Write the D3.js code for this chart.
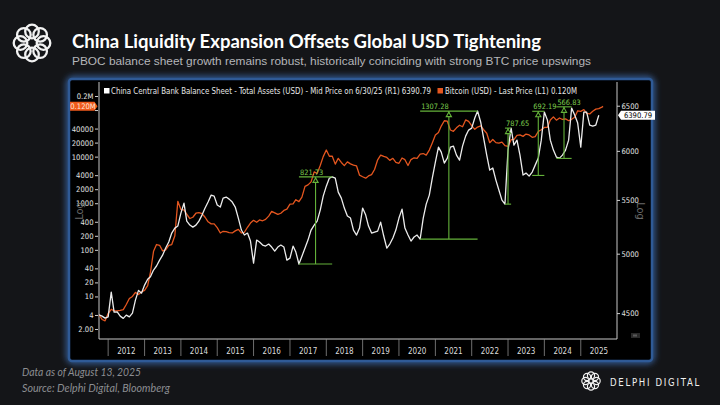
<!DOCTYPE html>
<html>
<head>
<meta charset="utf-8">
<script src="https://cdn.jsdelivr.net/npm/d3@7"></script>
<style>
  html, body { margin: 0; padding: 0; background: #141518; }
  svg { display: block; }
</style>
</head>
<body>
<div class="canvas"></div>
<script>
// month-end readings, first value is end of Sep 2011
const pbocStart = "2011-09";
const pbocValues = [
  4486, 4476, 4460, 4470,
  4670, 4508, 4510, 4476, 4458, 4484, 4470, 4500, 4605, 4685, 4662, 4729,
  4778, 4800, 4857, 4892, 4943, 4987, 5050, 5104, 5186, 5232, 5251, 5373,
  5469, 5297, 5260, 5241, 5260, 5297, 5354, 5421, 5479, 5547, 5537, 5450,
  5431, 5518, 5528, 5508, 5479, 5431, 5326, 5214, 5168, 5186, 5113, 4917,
  5122, 5104, 5077, 5068, 5086, 5059, 5023, 5059, 5077, 5059, 4943, 4961,
  5068, 5014, 4909, 4978, 5050, 5122, 5214, 5260, 5297, 5402, 5537, 5636,
  5717, 5729, 5717, 5577, 5518, 5421, 5345, 5326, 5214, 5168, 5232, 5421,
  5354, 5251, 5186, 5195, 5204, 5288, 5159, 5050, 5086, 5141, 5214, 5326,
  5411, 5232, 5168, 5113, 5150, 5168, 5131, 5326, 5459, 5547, 5717, 5881,
  6040, 5986, 5871, 5923, 6040, 6051, 5955, 5902, 6051, 6159, 6225, 6247,
  6360, 6439, 6315, 6137, 5955, 5799, 5820, 5697, 5597, 5498, 5459, 6008,
  6247, 6061, 6115, 5955, 5748, 5768, 5737, 5778, 5850, 5923, 6115, 6427,
  6336, 6115, 6008, 5934, 5923, 5955, 6008, 6115, 6472, 6394, 6303, 6040,
  6427, 6427, 6281, 6270, 6281, 6390.79
];

const btcStart = "2011-09";
const btcValues = [
  4.0, 3.2, 3.0, 4.3,
  5.3, 4.9, 4.9, 5.0, 5.2, 6.7, 9.0, 10.0, 12.2, 11.0, 12.5, 13.5,
  17, 33, 93, 130, 125, 95, 100, 125, 130, 200, 1100, 730,
  720, 580, 470, 500, 610, 630, 600, 500, 400, 360, 360, 300,
  230, 250, 245, 235, 230, 255, 275, 230, 238, 305, 375, 430,
  390, 437, 420, 450, 530, 670, 620, 575, 610, 700, 745, 960,
  970, 1190, 1080, 1350, 2300, 2480, 2870, 4700, 4340, 6450, 10000, 13900,
  10200, 10300, 6900, 9200, 7500, 6400, 7700, 7000, 6600, 6300, 4000, 3700,
  3450, 3850, 4100, 5300, 8550, 10800, 10100, 9600, 8300, 9200, 7550, 7200,
  9350, 8600, 6450, 8650, 9450, 9150, 11350, 11650, 10800, 13800, 19700, 29000,
  33100, 45200, 58900, 57700, 37300, 35000, 41500, 47100, 43800, 61300, 57000, 46300,
  38500, 43200, 45500, 37700, 31800, 19900, 23300, 20000, 19400, 20500, 17200, 16550,
  23100, 23150, 28500, 29250, 27200, 30500, 29200, 25950, 26970, 34650, 37700, 42300,
  42600, 61200, 71300, 60600, 67500, 62700, 64600, 59000, 63300, 70200, 96400, 93400,
  102400, 84400, 82500, 94200, 104600, 107100, 115700
];
const asOfDate = "2025-08-13";
const btcLastValue = 120000;

// 0.1M sits under the last-price tag, so its label stays blank
const btcTicks = [2, 4, 10, 20, 40, 100, 200, 400, 1000, 2000, 4000, 10000, 20000, 40000, 100000, 200000];
const btcTickLabels = ["2.00", "4", "10", "20", "40", "100", "200", "400", "1000", "2000", "4000", "10000", "20000", "40000", "", "0.2M"];
const pbocTicks = [4500, 5000, 5500, 6000, 6500];
const years = [2012, 2013, 2014, 2015, 2016, 2017, 2018, 2019, 2020, 2021, 2022, 2023, 2024, 2025];

// green high/low measurements on the PBOC line
const annLabels = ["821.73", "1307.28", "787.65", "692.19", "566.83"];
const annFrom = ["2017-03", "2020-07", "2022-11", "2023-08", "2024-04"];
const annTo = ["2018-02", "2022-02", "2023-01", "2023-12", "2024-09"];
const annLow = [4909, 5131, 5459, 5744, 5920];
const annHigh = [5729, 6438, 6247, 6436, 6487];

const legendPboc = "China Central Bank Balance Sheet - Total Assets (USD) - Mid Price on 6/30/25 (R1) 6390.79";
const legendBtc = "Bitcoin (USD) - Last Price (L1) 0.120M";

const width = 720;
const height = 405;
const chartFont = "'Liberation Sans Narrow', 'DejaVu Sans Condensed', 'Liberation Sans', Arial, sans-serif";
const orange = "#e4561f";
const green = "#64b23a";

const parseMonth = d3.timeParse("%Y-%m");
const monthEnd = (s, i = 0) => d3.timeMonth.offset(parseMonth(s), i + 1);

const pbocData = pbocValues.map((v, i) => ({ date: monthEnd(pbocStart, i), value: v }));
const btcData = btcValues.map((v, i) => ({ date: monthEnd(btcStart, i), value: v }));
btcData.push({ date: d3.timeParse("%Y-%m-%d")(asOfDate), value: btcLastValue });

const plot = { left: 99, right: 617, top: 82, bottom: 339 };

const x = d3.scaleTime()
  .domain([new Date(2011, 9, 1), new Date(2025, 11, 31)])
  .range([plot.left, plot.right]);
const yBtc = d3.scaleLog().domain([1.22, 399600]).range([plot.bottom, plot.top]);
const yPboc = d3.scaleLog().domain([4298, 6779]).range([plot.bottom, plot.top]);

const svg = d3.select(".canvas")
  .append("svg")
  .attr("width", width)
  .attr("height", height);

svg.append("rect").attr("width", width).attr("height", height).attr("fill", "#141518");

const defs = svg.append("defs");
defs.append("filter").attr("id", "glow").attr("x", "-10%").attr("y", "-10%").attr("width", "120%").attr("height", "120%")
  .append("feGaussianBlur").attr("stdDeviation", 3);
defs.append("clipPath").attr("id", "plotClip")
  .append("rect")
  .attr("x", plot.left).attr("y", plot.top)
  .attr("width", plot.right - plot.left).attr("height", plot.bottom - plot.top);

// header logo: ring of loops
function ringLogo(cx, cy, ring, r, sw) {
  const g = svg.append("g");
  d3.range(8).forEach((i) => {
    const a = (i * Math.PI) / 4;
    g.append("circle")
      .attr("cx", cx + ring * Math.cos(a))
      .attr("cy", cy + ring * Math.sin(a))
      .attr("r", r)
      .attr("fill", "none")
      .attr("stroke", "#f2f2f2")
      .attr("stroke-width", sw);
  });
}
ringLogo(32, 43, 11.5, 6.8, 2.3);

svg.append("text")
  .attr("x", 72).attr("y", 48)
  .attr("textLength", 469).attr("lengthAdjust", "spacingAndGlyphs")
  .style("font-family", "Lato, 'Open Sans', sans-serif")
  .style("font-weight", 700)
  .style("font-size", "19.5px")
  .attr("fill", "#ffffff")
  .text("China Liquidity Expansion Offsets Global USD Tightening");

svg.append("text")
  .attr("x", 72).attr("y", 65)
  .attr("textLength", 519).attr("lengthAdjust", "spacingAndGlyphs")
  .style("font-family", "'Liberation Sans', Arial, sans-serif")
  .style("font-size", "11.5px")
  .attr("fill", "#b4b6ba")
  .text("PBOC balance sheet growth remains robust, historically coinciding with strong BTC price upswings");

// chart panel with blue glow border
svg.append("rect")
  .attr("x", 69).attr("y", 79).attr("width", 583).attr("height", 282).attr("rx", 4)
  .attr("fill", "none").attr("stroke", "#3a6cb0").attr("stroke-width", 5)
  .attr("filter", "url(#glow)");
svg.append("rect")
  .attr("x", 69).attr("y", 79).attr("width", 583).attr("height", 282).attr("rx", 3)
  .attr("fill", "#000000").attr("stroke", "#2f5a96").attr("stroke-width", 2.5);

// legend
const legend = svg.append("g").style("font-family", chartFont).style("font-size", "8px");
legend.append("rect").attr("x", 104).attr("y", 88).attr("width", 5.5).attr("height", 5.5).attr("fill", "#ffffff");
legend.append("text").attr("x", 111).attr("y", 94)
  .attr("textLength", 320).attr("lengthAdjust", "spacingAndGlyphs")
  .attr("fill", "#e6e6e6").text(legendPboc);
legend.append("rect").attr("x", 437.5).attr("y", 88).attr("width", 5.5).attr("height", 5.5).attr("fill", orange);
legend.append("text").attr("x", 445).attr("y", 94)
  .attr("textLength", 132).attr("lengthAdjust", "spacingAndGlyphs")
  .attr("fill", "#e6e6e6").text(legendBtc);

// frame
const frame = svg.append("g").attr("stroke", "#c8c8c8").attr("stroke-width", 1).attr("fill", "none");
frame.append("path").attr("d", `M${plot.left},${plot.top}V${plot.bottom}H${plot.right}V${plot.top}`);

// left axis (BTC, log)
const leftAxis = svg.append("g")
  .attr("transform", `translate(${plot.left - 1},0)`)
  .call(d3.axisLeft(yBtc).tickValues(btcTicks).tickFormat((d, i) => btcTickLabels[i]).tickSize(3).tickPadding(1.5));
leftAxis.select(".domain").remove();
leftAxis.selectAll("line").attr("stroke", "#d0d0d0");
leftAxis.selectAll("text").attr("fill", "#e2e2e2").style("font-family", chartFont).style("font-size", "7.6px");

// right axis (PBOC, log)
const rightAxis = svg.append("g")
  .attr("transform", `translate(${plot.right},0)`)
  .call(d3.axisRight(yPboc).tickValues(pbocTicks).tickFormat(d3.format("d")).tickSize(3).tickPadding(1.5));
rightAxis.select(".domain").remove();
rightAxis.selectAll("line").attr("stroke", "#d0d0d0");
rightAxis.selectAll("text").attr("fill", "#e2e2e2").style("font-family", chartFont).style("font-size", "7.6px");

// year dividers and labels
const xAxis = svg.append("g");
xAxis.selectAll("line")
  .data(years)
  .enter()
  .append("line")
  .attr("x1", (yr) => x(new Date(yr, 0, 1)))
  .attr("x2", (yr) => x(new Date(yr, 0, 1)))
  .attr("y1", plot.bottom)
  .attr("y2", plot.bottom + 17)
  .attr("stroke", "#8a8a8a")
  .attr("stroke-width", 0.8);
xAxis.selectAll("text")
  .data(years)
  .enter()
  .append("text")
  .attr("x", (yr) => x(new Date(yr, 6, 2)))
  .attr("y", plot.bottom + 15)
  .attr("text-anchor", "middle")
  .attr("fill", "#dcdcdc")
  .style("font-family", chartFont)
  .style("font-size", "8px")
  .text((yr) => yr);

// "Log" axis captions
svg.append("text")
  .attr("transform", "translate(83,211) rotate(-90)")
  .attr("text-anchor", "middle")
  .attr("fill", "#6a6a6a")
  .style("font-family", chartFont).style("font-size", "11px")
  .text("Log");
svg.append("text")
  .attr("transform", "translate(637,211) rotate(90)")
  .attr("text-anchor", "middle")
  .attr("fill", "#6a6a6a")
  .style("font-family", chartFont).style("font-size", "11px")
  .text("Log");

// series
const lines = svg.append("g").attr("clip-path", "url(#plotClip)");
lines.append("path")
  .datum(btcData)
  .attr("fill", "none")
  .attr("stroke", orange)
  .attr("stroke-width", 1.3)
  .attr("stroke-linejoin", "round")
  .attr("d", d3.line().x((d) => x(d.date)).y((d) => yBtc(d.value)));
lines.append("path")
  .datum(pbocData)
  .attr("fill", "none")
  .attr("stroke", "#ececec")
  .attr("stroke-width", 1.3)
  .attr("stroke-linejoin", "round")
  .attr("d", d3.line().x((d) => x(d.date)).y((d) => yPboc(d.value)));

// annotations
const ann = svg.append("g");
annLabels.forEach((label, i) => {
  const x0 = x(monthEnd(annFrom[i]));
  const x1 = x(monthEnd(annTo[i]));
  const xm = (x0 + x1) / 2;
  const yLo = yPboc(annLow[i]);
  const yHi = yPboc(annHigh[i]);
  const g = ann.append("g").attr("stroke", green).attr("stroke-width", 1.1).attr("fill", "none");
  g.append("line").attr("x1", x0).attr("x2", x1).attr("y1", yHi).attr("y2", yHi);
  g.append("line").attr("x1", x0).attr("x2", x1).attr("y1", yLo).attr("y2", yLo);
  g.append("line").attr("x1", xm).attr("x2", xm).attr("y1", yHi).attr("y2", yLo);
  g.append("path")
    .attr("d", `M${xm},${yHi + 1}L${xm - 2.6},${yHi + 5.5}L${xm + 2.6},${yHi + 5.5}Z`)
    .attr("fill", "#000");
  ann.append("text")
    .attr("x", x0 + 1)
    .attr("y", yHi - 2)
    .attr("fill", "#7ccb4e")
    .style("font-family", chartFont)
    .style("font-size", "7.4px")
    .text(label);
});

// last value tags
const btcTagY = yBtc(btcLastValue);
svg.append("path")
  .attr("d", `M70,${btcTagY - 4.5}H94.5L97.5,${btcTagY}L94.5,${btcTagY + 4.5}H70Z`)
  .attr("fill", "#f05a1c");
svg.append("text")
  .attr("x", 83).attr("y", btcTagY + 2.8)
  .attr("text-anchor", "middle")
  .attr("fill", "#ffe4d6")
  .style("font-family", chartFont).style("font-size", "7.6px")
  .text("0.120M");

const pbocLast = pbocValues[pbocValues.length - 1];
const pbocTagY = yPboc(pbocLast);
svg.append("path")
  .attr("d", `M618,${pbocTagY}L621,${pbocTagY - 4.5}H655V${pbocTagY + 4.5}H621Z`)
  .attr("fill", "#ffffff");
svg.append("text")
  .attr("x", 638).attr("y", pbocTagY + 2.8)
  .attr("text-anchor", "middle")
  .attr("fill", "#000000")
  .style("font-family", chartFont).style("font-size", "7.6px")
  .text(d3.format(".2f")(pbocLast));

// tiny widget in the corner
svg.append("rect").attr("x", 631).attr("y", 333).attr("width", 9).attr("height", 5).attr("fill", "#2a2a2a");
svg.append("rect").attr("x", 633).attr("y", 334.5).attr("width", 4).attr("height", 2).attr("fill", "#5a5a5a");

// footer
const footer = svg.append("g")
  .style("font-family", "Lato, 'Open Sans', sans-serif")
  .style("font-style", "italic")
  .style("font-size", "10.5px")
  .attr("fill", "#8c8e92");
footer.append("text").attr("x", 22).attr("y", 376)
  .attr("textLength", 119).attr("lengthAdjust", "spacingAndGlyphs")
  .text("Data as of August 13, 2025");
footer.append("text").attr("x", 22).attr("y", 392)
  .attr("textLength", 148).attr("lengthAdjust", "spacingAndGlyphs")
  .text("Source: Delphi Digital, Bloomberg");

ringLogo(591, 381, 5.6, 3.6, 1.2);
svg.append("text")
  .attr("x", 610).attr("y", 385.5)
  .attr("textLength", 91).attr("lengthAdjust", "spacingAndGlyphs")
  .attr("fill", "#f0f0f0")
  .style("font-family", "'DejaVu Sans', sans-serif")
  .style("font-size", "10px")
  .style("letter-spacing", "2px")
  .text("DELPHI DIGITAL");
</script>
</body>
</html>
